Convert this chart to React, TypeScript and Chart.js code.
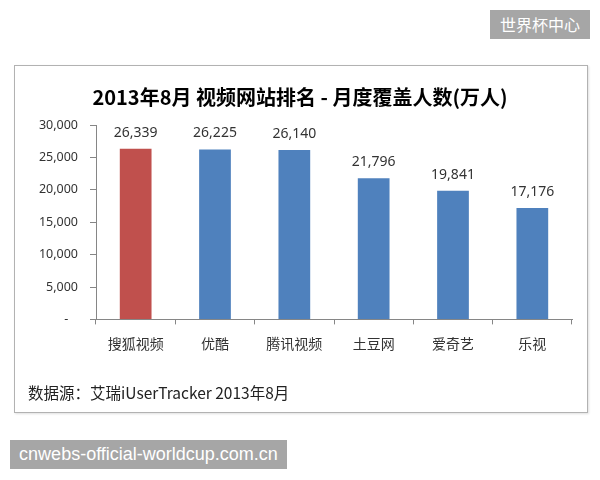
import React, { useEffect, useRef } from "react";
import { Chart, registerables } from "chart.js";

Chart.register(...registerables);

const categories = ["搜狐视频", "优酷", "腾讯视频", "土豆网", "爱奇艺", "乐视"];
const coverage = [26339, 26225, 26140, 21796, 19841, 17176];
const barColors = ["#C0504D", "#4F81BD", "#4F81BD", "#4F81BD", "#4F81BD", "#4F81BD"];
const yMin = 0;
const yMax = 30000;
const yStep = 5000;
const titleText = "2013年8月 视频网站排名 - 月度覆盖人数(万人)";
const sourceText = "数据源：艾瑞iUserTracker 2013年8月";
const badgeTop = "世界杯中心";
const badgeBottom = "cnwebs-official-worldcup.com.cn";

const fmt = (v: number) => v.toLocaleString("en-US");

const valueLabels = {
  id: "valueLabels",
  afterDatasetsDraw(chart: any) {
    const { ctx } = chart;
    const meta = chart.getDatasetMeta(0);
    ctx.save();
    ctx.font = "14px 'Noto Sans', sans-serif";
    ctx.fillStyle = "#333333";
    ctx.textAlign = "center";
    ctx.textBaseline = "middle";
    meta.data.forEach((bar: any, i: number) => {
      const v = chart.data.datasets[0].data[i] as number;
      ctx.fillText(fmt(v), bar.x, bar.y - 16);
    });
    ctx.restore();
  },
};

export default function App() {
  const canvasRef = useRef<HTMLCanvasElement | null>(null);

  useEffect(() => {
    if (!canvasRef.current) return;
    const chart = new Chart(canvasRef.current, {
      type: "bar",
      data: {
        labels: categories,
        datasets: [
          {
            data: coverage,
            backgroundColor: barColors,
            borderWidth: 0,
            barPercentage: 0.4,
            categoryPercentage: 1,
          },
        ],
      },
      options: {
        responsive: false,
        animation: false,
        devicePixelRatio: 1,
        layout: { padding: { left: 28, right: 28, top: 65, bottom: 67 } },
        plugins: {
          legend: { display: false },
          tooltip: { enabled: false },
          title: {
            display: true,
            text: titleText,
            color: "#000000",
            font: { family: "'Noto Sans CJK SC', sans-serif", size: 20, weight: "bold", lineHeight: 1.2 },
            padding: { top: 20, bottom: 16 },
          },
          subtitle: {
            display: true,
            position: "bottom",
            align: "start",
            text: sourceText,
            color: "#222222",
            font: { family: "'Noto Sans CJK SC', sans-serif", size: 15.5, lineHeight: 1.2 },
            padding: { top: 10, bottom: 11 },
          },
        },
        scales: {
          x: {
            afterFit(scale: any) {
              scale.height = 54;
            },
            grid: {
              display: true,
              drawOnChartArea: false,
              drawTicks: true,
              tickLength: 5,
              color: "#868686",
            },
            border: { display: true, color: "#868686" },
            ticks: {
              color: "#333333",
              padding: 11,
              font: { family: "'Noto Sans CJK SC', sans-serif", size: 14 },
            },
          },
          y: {
            min: yMin,
            max: yMax,
            afterFit(scale: any) {
              scale.width = 68;
            },
            grid: {
              display: true,
              drawOnChartArea: false,
              drawTicks: true,
              tickLength: 6,
              color: "#868686",
            },
            border: { display: true, color: "#868686" },
            ticks: {
              stepSize: yStep,
              color: "#333333",
              padding: 12,
              font: { family: "'Noto Sans', sans-serif", size: 12.5 },
              callback: (v: any) => (Number(v) === 0 ? "-   " : fmt(Number(v))),
            },
          },
        },
      },
      plugins: [valueLabels],
    });
    return () => chart.destroy();
  }, []);

  return (
    <div
      style={{
        position: "fixed",
        left: 0,
        top: 0,
        width: 600,
        height: 480,
        background: "#ffffff",
        overflow: "hidden",
      }}
    >
      <div
        style={{
          position: "absolute",
          left: 14,
          top: 65,
          width: 574,
          height: 348,
          boxSizing: "border-box",
          border: "1px solid #b2b2b2",
          boxShadow: "1px 1px 2px rgba(0,0,0,0.12)",
        }}
      />
      <canvas
        ref={canvasRef}
        width={600}
        height={480}
        style={{ position: "absolute", left: 0, top: 0, width: 600, height: 480 }}
      />
      <div
        style={{
          position: "absolute",
          left: 490,
          top: 10,
          width: 100,
          height: 29,
          background: "#a6a6a6",
          color: "#ffffff",
          fontFamily: "'Noto Sans CJK SC', sans-serif",
          fontSize: 16,
          lineHeight: "29px",
          textAlign: "center",
        }}
      >
        {badgeTop}
      </div>
      <div
        style={{
          position: "absolute",
          left: 10,
          top: 440,
          width: 277,
          height: 29,
          background: "#a6a6a6",
          color: "#ffffff",
          fontFamily: "'Liberation Sans', Arial, sans-serif",
          fontSize: 18,
          lineHeight: "29px",
          textAlign: "center",
          whiteSpace: "nowrap",
        }}
      >
        {badgeBottom}
      </div>
    </div>
  );
}
